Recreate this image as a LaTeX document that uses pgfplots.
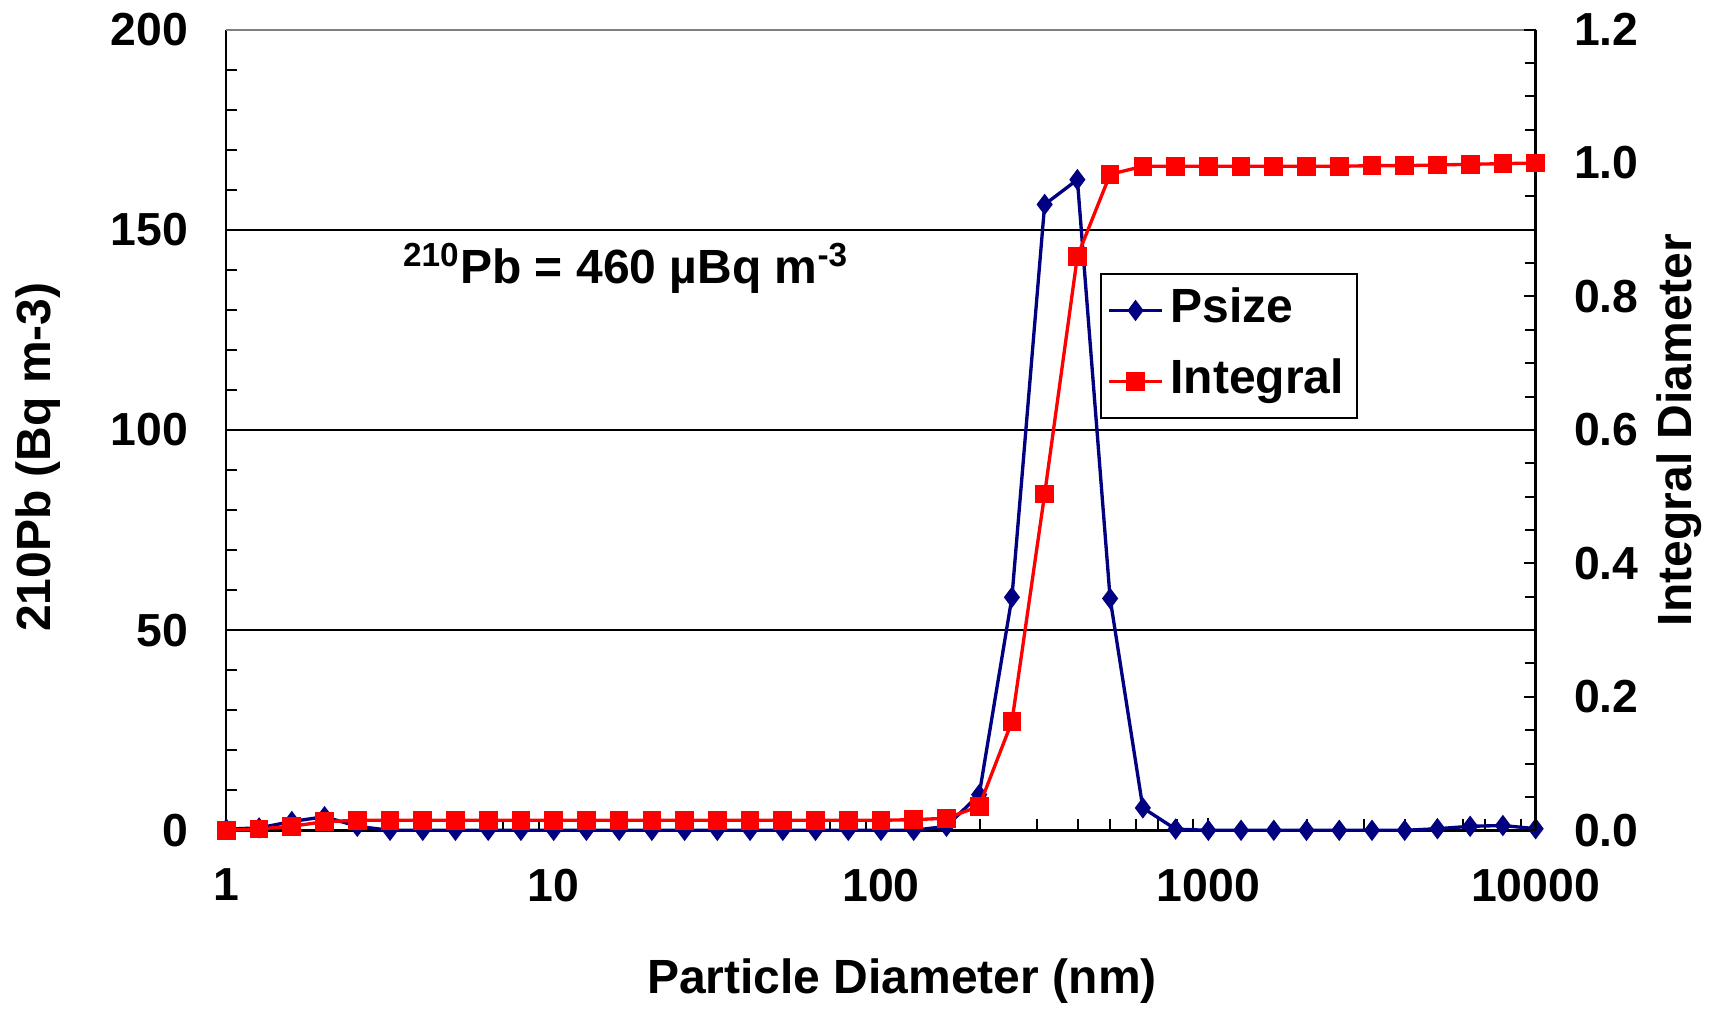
\documentclass[border=0pt]{standalone}
\usepackage{fontspec}
\setmainfont{Liberation Sans}
\usepackage{pgfplots}
\pgfplotsset{compat=1.18}
\definecolor{psize}{RGB}{0,0,128}
\definecolor{integ}{RGB}{255,0,0}
\begin{document}
\begin{tikzpicture}
\begin{axis}[
  scale only axis,
  width=392.7pt, height=240.2pt,
  xmode=log, xmin=1, xmax=10000,
  clip=false,
  tick align=inside,
  major tick length=3.6pt,
  minor tick length=3.3pt,
  tick style={black, line width=0.6pt},
  ticklabel style={font=\fontsize{13.9}{16}\selectfont\bfseries},
  label style={font=\fontsize{14.4}{17}\selectfont\bfseries},
  axis x line*=bottom, axis y line*=left,
  x axis line style={black, line width=0.8pt},
  y axis line style={black, line width=0.6pt},
  xtick={1,10,100,1000,10000},
  xticklabels={1,10,100,1000,10000},
  xticklabel style={yshift=-8pt},
  ymin=0, ymax=200,
  ytick={0,50,100,150,200},
  minor y tick num=4,
  yticklabel style={xshift=-8pt},
  ymajorgrids,
  major grid style={black, line width=0.6pt},
  xlabel={Particle Diameter (nm)},
  xlabel style={at={(axis description cs:0.516,-0.1886)}, anchor=center},
  ylabel={210Pb (Bq m-3)},
  ylabel style={at={(axis description cs:-0.1436,0.466)}, anchor=center},
  /pgf/number format/assume math mode=true,
]
\coordinate (ll) at (rel axis cs:0,0);
\coordinate (ur) at (rel axis cs:1,1);
\draw[gray, line width=0.6pt] (rel axis cs:0,1) -- (rel axis cs:1,1);
\addplot[color=psize, line width=1pt, mark=diamond*, mark size=2.4pt, mark options={solid, fill=psize}] coordinates {
(1,0.3) (1.2589,0.6) (1.5849,2.2) (1.9953,3.4) (2.5119,1.0) (3.1623,0) (3.9811,0) (5.0119,0) (6.3096,0) (7.9433,0)
(10,0) (12.589,0) (15.849,0) (19.953,0) (25.119,0) (31.623,0) (39.811,0) (50.119,0) (63.096,0) (79.433,0)
(100,0) (125.89,0) (158.49,1.0) (199.53,8.9) (251.19,58.2) (316.23,156.3) (398.11,162.5) (501.19,57.9) (630.96,5.6) (794.33,0.3)
(1000,0) (1258.9,0) (1584.9,0) (1995.3,0) (2511.9,0) (3162.3,0) (3981.1,0) (5011.9,0.4) (6309.6,1.0) (7943.3,1.2) (10000,0.4)
};
\node[anchor=base west, font=\fontsize{14.4}{17}\selectfont\bfseries] at (axis cs:3.19,136.5) {\textsuperscript{210}Pb = 460 µBq m\textsuperscript{-3}};
\end{axis}
\begin{axis}[
  scale only axis,
  width=392.7pt, height=240.2pt,
  xmode=log, xmin=1, xmax=10000,
  clip=false,
  tick align=inside,
  major tick length=3.6pt,
  minor tick length=3.3pt,
  tick style={black, line width=0.6pt},
  ticklabel style={font=\fontsize{13.9}{16}\selectfont\bfseries},
  label style={font=\fontsize{14.4}{17}\selectfont\bfseries},
  axis x line=none, axis y line*=right,
  y axis line style={black, line width=0.8pt},
  ymin=0, ymax=1.2,
  ytick={0,0.2,0.4,0.6,0.8,1.0,1.2},
  minor y tick num=3,
  yticklabel style={xshift=8pt, /pgf/number format/.cd, fixed, fixed zerofill, precision=1, assume math mode=true},
  ylabel={Integral Diameter},
  ylabel style={at={(axis description cs:1.1095,0.5)}, anchor=center},
  legend style={at={(0.667,0.696)}, anchor=north west, draw=black, line width=0.6pt,
    font=\fontsize{14.4}{17}\selectfont\bfseries, inner sep=2pt, row sep=3.4pt,
    nodes={inner sep=2pt, text height=10.5pt, text depth=3.4pt}},
  legend cell align=left,
  legend image code/.code={\draw[mark repeat=2,mark phase=2] plot coordinates {(0cm,0cm) (0.28cm,0cm) (0.56cm,0cm)};},
]
\addlegendimage{color=psize, line width=1pt, mark=diamond*, mark size=2.4pt, mark options={solid, fill=psize}}
\addlegendentry{Psize}
\addplot[color=integ, line width=1pt, mark=square*, mark size=2.3pt, mark options={solid, fill=integ}] coordinates {
(1,0) (1.2589,0.002) (1.5849,0.006) (1.9953,0.013) (2.5119,0.015) (3.1623,0.015) (3.9811,0.015) (5.0119,0.015) (6.3096,0.015) (7.9433,0.015)
(10,0.015) (12.589,0.015) (15.849,0.015) (19.953,0.015) (25.119,0.015) (31.623,0.015) (39.811,0.015) (50.119,0.015) (63.096,0.015) (79.433,0.015)
(100,0.015) (125.89,0.016) (158.49,0.018) (199.53,0.036) (251.19,0.163) (316.23,0.504) (398.11,0.86) (501.19,0.983) (630.96,0.995) (794.33,0.995)
(1000,0.995) (1258.9,0.995) (1584.9,0.995) (1995.3,0.995) (2511.9,0.995) (3162.3,0.996) (3981.1,0.996) (5011.9,0.997) (6309.6,0.998) (7943.3,0.999) (10000,1.0)
};
\addlegendentry{Integral}
\end{axis}
\pgfresetboundingbox
\path[use as bounding box] ([shift={(-67.9pt,-54pt)}]ll) rectangle ([shift={(53.8pt,8.85pt)}]ur);
\end{tikzpicture}
\end{document}
